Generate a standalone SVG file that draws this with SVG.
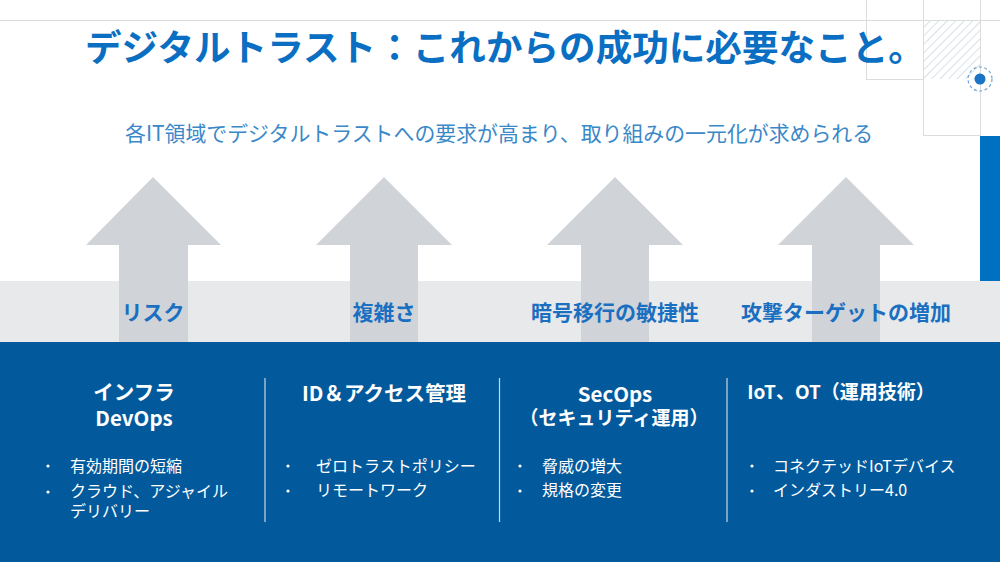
<svg xmlns="http://www.w3.org/2000/svg" width="1000" height="562" viewBox="0 0 1000 562">
<defs>
<style>
.t{font-family:"Noto Sans CJK JP","Noto Sans",sans-serif}
.title{font-size:36.6px;font-weight:700;fill:#0a6fc2}
.sub{font-size:20.9px;font-weight:400;fill:#3a88c8}
.lab{font-size:21px;font-weight:700;fill:#1a6fc0;text-anchor:middle}
.hd{font-size:20.5px;font-weight:700;fill:#fff;text-anchor:middle}
.hs{font-size:19px}
.bl{font-size:16px;fill:#fff}
.arrow{fill:#d0d4d9}
.grid{stroke:#dcdcdc;stroke-width:1;fill:none}
.div{stroke:#c9d6e6;stroke-width:1.2}
</style>
<pattern id="hatch" width="6" height="6" patternUnits="userSpaceOnUse" patternTransform="rotate(45)">
<line x1="0" y1="0" x2="0" y2="6" stroke="#b9d0dc" stroke-width="1.2"/>
</pattern>
</defs>
<rect width="1000" height="562" fill="#fff"/>
<g id="decor">
<line class="grid" x1="0" y1="20.5" x2="1000" y2="20.5"/>
<line class="grid" x1="866.5" y1="0" x2="866.5" y2="79"/>
<line class="grid" x1="866" y1="79.5" x2="923" y2="79.5"/>
<line class="grid" x1="923.5" y1="0" x2="923.5" y2="136"/>
<line class="grid" x1="980.5" y1="0" x2="980.5" y2="136"/>
<line class="grid" x1="923" y1="135.5" x2="980" y2="135.5"/>
<rect x="924" y="21" width="56" height="58" fill="url(#hatch)"/>
<circle cx="980" cy="79" r="12" fill="none" stroke="#6aa3d4" stroke-width="1.2" stroke-dasharray="3 2.5"/>
<circle cx="980" cy="79" r="5.5" fill="#1a73c4"/>
<rect x="980" y="136" width="20" height="145" fill="#0070c0"/>
</g>
<g id="title">
<text class="t title" x="85" y="61">デジタルトラスト：これからの成功に必要なこと。</text>
<text class="t sub" x="125" y="141">各IT領域でデジタルトラストへの要求が高まり、取り組みの一元化が求められる</text>
</g>
<rect x="0" y="281" width="1000" height="61" fill="#e8e9eb"/>
<g id="arrows">
<g id="arrow1"><polygon class="arrow" points="153,177 221,245 188,245 188,342 119,342 119,245 86,245"/><text class="t lab" x="153" y="320">リスク</text></g>
<g id="arrow2"><polygon class="arrow" points="384,177 452,245 418,245 418,342 350,342 350,245 316,245"/><text class="t lab" x="384" y="320">複雑さ</text></g>
<g id="arrow3"><polygon class="arrow" points="615,177 683,245 649,245 649,342 581,342 581,245 547,245"/><text class="t lab" x="615" y="320">暗号移行の敏捷性</text></g>
<g id="arrow4"><polygon class="arrow" points="846,177 914,245 880,245 880,342 812,342 812,245 778,245"/><text class="t lab" x="846" y="320">攻撃ターゲットの増加</text></g>
</g>
<rect x="0" y="342" width="1000" height="220" fill="#025a9c"/>
<g id="dividers">
<line class="div" x1="265" y1="378" x2="265" y2="522"/>
<line class="div" x1="499.5" y1="378" x2="499.5" y2="522"/>
<line class="div" x1="727" y1="378" x2="727" y2="522"/>
</g>
<g id="col1">
<text class="t hd" x="134" y="400">インフラ<tspan x="134" dy="26">DevOps</tspan></text>
<circle cx="48" cy="466" r="1.6" fill="#fff"/><text class="t bl" x="70" y="472">有効期間の短縮</text>
<circle cx="48" cy="492" r="1.6" fill="#fff"/><text class="t bl" x="70" y="497">クラウド、アジャイル<tspan x="70" dy="20">デリバリー</tspan></text>
</g>
<g id="col2">
<text class="t hd" x="384" y="401">ID＆アクセス管理</text>
<circle cx="288" cy="466" r="1.6" fill="#fff"/><text class="t bl" x="316" y="472">ゼロトラストポリシー</text>
<circle cx="288" cy="491" r="1.6" fill="#fff"/><text class="t bl" x="316" y="496">リモートワーク</text>
</g>
<g id="col3">
<text class="t hd" x="615" y="402">SecOps<tspan class="hs" x="614" dy="23">（セキュリティ運用）</tspan></text>
<circle cx="520" cy="466" r="1.6" fill="#fff"/><text class="t bl" x="542" y="472">脅威の増大</text>
<circle cx="520" cy="491" r="1.6" fill="#fff"/><text class="t bl" x="542" y="496">規格の変更</text>
</g>
<g id="col4">
<text class="t hd hs" x="841" y="399">IoT、OT（運用技術）</text>
<circle cx="752" cy="466" r="1.6" fill="#fff"/><text class="t bl" x="773" y="472">コネクテッドIoTデバイス</text>
<circle cx="752" cy="491" r="1.6" fill="#fff"/><text class="t bl" x="773" y="496">インダストリー4.0</text>
</g>
</svg>
